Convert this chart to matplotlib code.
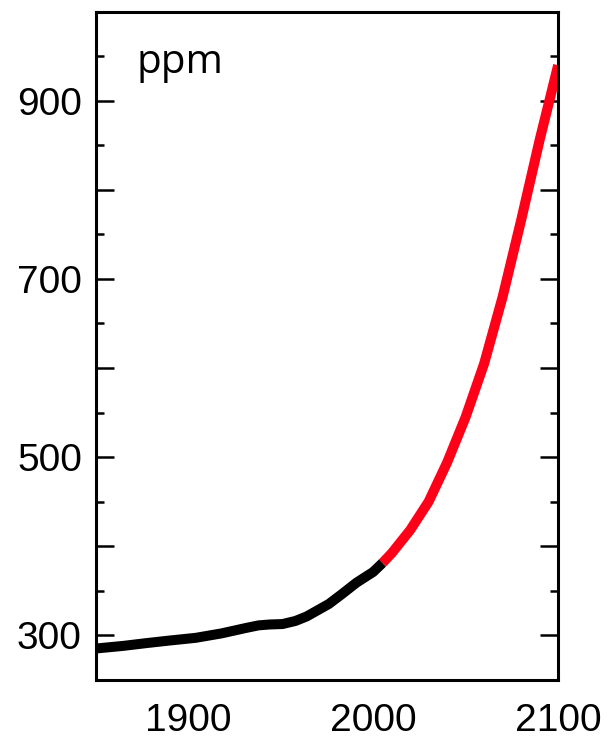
import matplotlib.pyplot as plt
from matplotlib.ticker import MultipleLocator

# CO2 concentration: observed (black) and projection (red)
hist_years = [1850, 1865, 1877, 1890, 1904, 1918, 1931, 1938, 1944, 1951,
              1958, 1964, 1970, 1976, 1983, 1991, 2000, 2005]
hist_ppm = [285, 288, 291, 294, 297, 302, 308, 311, 312, 312.5,
            316, 321, 328, 335, 346, 359, 371, 381]

proj_years = [2005, 2010, 2020, 2030, 2040, 2050, 2060, 2070, 2080, 2090, 2100]
proj_ppm = [381, 392, 418, 450, 494, 545, 605, 680, 766, 856, 940]

y_labels = [300, 500, 700, 900]
x_ticks = [1900, 2000, 2100]

plt.rcParams['font.family'] = ['Liberation Sans', 'DejaVu Sans']

fig = plt.figure(figsize=(6.14, 7.38), dpi=100)
ax = fig.add_axes([0.156, 0.079, 0.753, 0.905])

ax.plot(proj_years, proj_ppm, color='#ff0018', lw=7.2, solid_capstyle='butt',
        solid_joinstyle='round')
ax.plot(hist_years, hist_ppm, color='black', lw=7.2, solid_capstyle='butt',
        solid_joinstyle='round')

ax.set_xlim(1850, 2100)
ax.set_ylim(250, 1000)
ax.set_xticks(x_ticks)
ax.set_xticklabels([str(v) for v in x_ticks])
ax.yaxis.set_major_locator(MultipleLocator(100))
ax.yaxis.set_minor_locator(MultipleLocator(50))
ax.yaxis.set_major_formatter(lambda v, pos: f'{int(v)}' if int(v) in y_labels else '')

for s in ax.spines.values():
    s.set_linewidth(2.2)

ax.tick_params(axis='y', which='major', direction='in', length=13, width=1.8,
               left=True, right=True, labelsize=28, pad=10)
ax.tick_params(axis='y', which='minor', direction='in', length=6, width=1.8,
               left=True, right=True)
ax.tick_params(axis='x', length=0, labelsize=28, pad=17)

ax.text(0.088, 0.909, 'ppm', transform=ax.transAxes, fontsize=29,
        family='Open Sans', va='baseline', ha='left')

fig.savefig('out.png', dpi=100)
